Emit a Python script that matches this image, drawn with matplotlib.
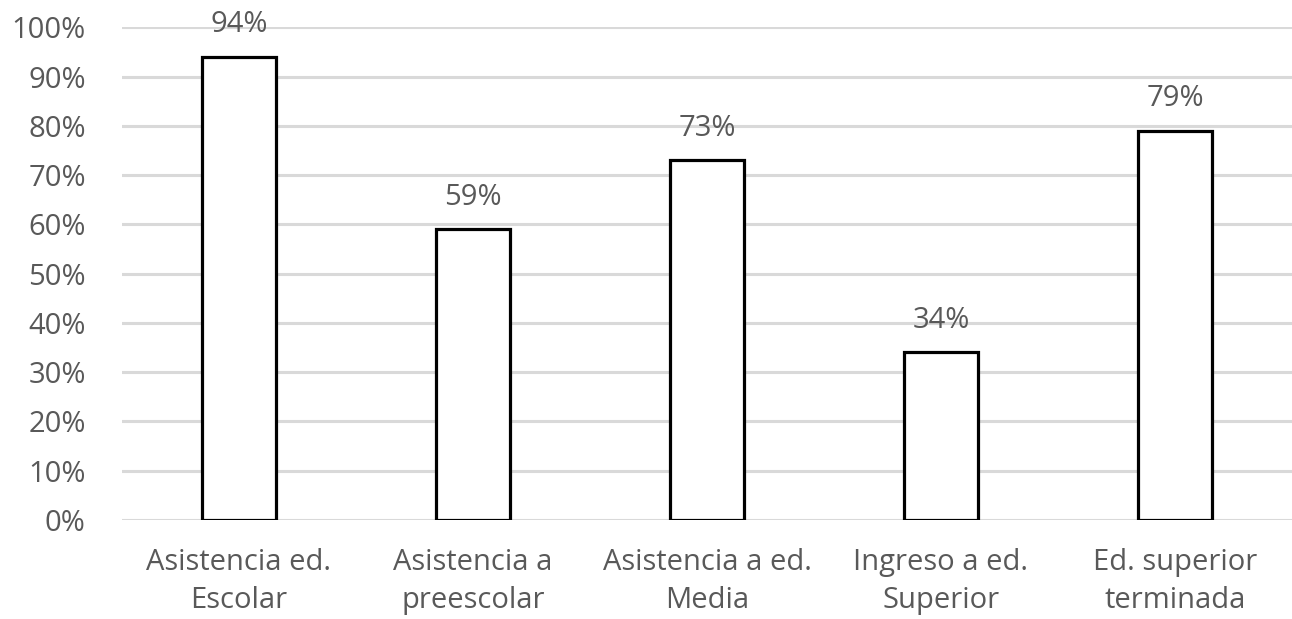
import matplotlib.pyplot as plt
import numpy as np

categories = ['Asistencia ed.\nEscolar', 'Asistencia a\npreescolar', 'Asistencia a ed.\nMedia',
              'Ingreso a ed.\nSuperior', 'Ed. superior\nterminada']
values = [94, 59, 73, 34, 79]
yticks = [0, 10, 20, 30, 40, 50, 60, 70, 80, 90, 100]

plt.rcParams['font.family'] = ['Open Sans', 'DejaVu Sans']
txt = '#595959'
fs = 21

fig = plt.figure(figsize=(12.92, 6.19), dpi=100)
ax = fig.add_axes([0.0944, 0.16, 0.9056, 0.796])

x = np.arange(len(categories))
ax.bar(x, values, width=0.32, color='white', edgecolor='black', linewidth=2.3, zorder=3)

# value labels above each bar
for xi, v in zip(x, values):
    ax.text(xi, v + 6.5, f'{v}%', ha='center', va='center', fontsize=fs, color=txt)

ax.set_xlim(-0.5, len(categories) - 0.5)
ax.set_ylim(0, 100)
ax.set_yticks(yticks)
ax.set_yticklabels([f'{t}%' for t in yticks], fontsize=fs, color=txt)
ax.set_xticks(x)
ax.set_xticklabels(categories, fontsize=fs, color=txt, linespacing=1.4)
ax.tick_params(axis='both', length=0)
ax.tick_params(axis='y', pad=26)
ax.tick_params(axis='x', pad=20)
ax.yaxis.grid(True, color='#d9d9d9', linewidth=2.2, zorder=0)
ax.set_axisbelow(True)
for s in ax.spines.values():
    s.set_visible(False)

fig.savefig('out.png', dpi=100)
